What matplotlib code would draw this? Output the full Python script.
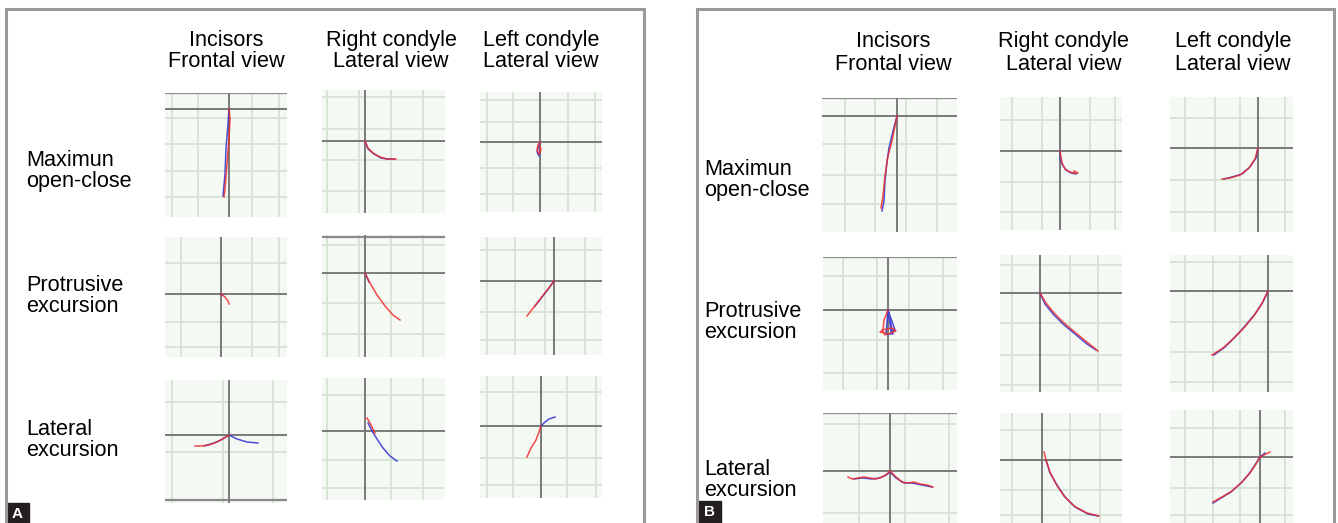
import matplotlib
matplotlib.use("Agg")
import matplotlib.pyplot as plt
from matplotlib.patches import Rectangle

W, H = 1338, 523
plt.rcParams['font.family'] = ['Liberation Sans', 'DejaVu Sans']

col_headers = ["Incisors\nFrontal view", "Right condyle\nLateral view", "Left condyle\nLateral view"]
row_labels = ["Maximun\nopen-close", "Protrusive\nexcursion", "Lateral\nexcursion"]
panel_labels = ["A", "B"]

# ---- trace data (local units, origin at axis crossing, y up) ----
A11_red = [(0, 0), (1, -10), (0, -30), (-2, -55), (-4, -80), (-5, -88)]
A11_blue = [(0, 0), (-1, -15), (-3, -40), (-4, -65), (-6, -87)]
A12_red = [(0, 0), (3, -7), (8, -12), (15, -16), (22, -18), (31, -18)]
A12_blue = [(0, 0), (3, -8), (9, -13), (16, -17), (23, -18), (29, -18)]
A13_red = [(0, 0), (-2, -3), (-3, -8), (-1, -12), (1, -8), (0, -4)]
A13_blue = [(0, 0), (-1, -4), (-3, -10), (-1, -14), (0, -10)]
A21_red = [(0, 0), (4, -3), (7, -7), (8, -10)]
A21_blue = [(0, 0), (1, -1)]
A22_red = [(0, 0), (5, -10), (12, -22), (20, -33), (28, -42), (35, -47)]
A22_blue = [(0, 0), (4, -9)]
A23_red = [(0, 0), (-6, -8), (-13, -17), (-20, -26), (-27, -35)]
A23_blue = [(0, 0), (-5, -7), (-12, -16), (-19, -25)]
A31_red = [(-34, -11), (-28, -11), (-20, -10), (-12, -7), (-5, -3), (0, 0)]
A31_blue = [(-25, -11), (-15, -8), (-8, -5), (0, 0), (8, -4), (18, -7), (29, -8)]
A32_red = [(2, 13), (5, 8), (8, 2), (10, -2)]
A32_blue = [(3, 8), (7, 0), (12, -8), (18, -17), (25, -25), (32, -30)]
A33_red = [(-14, -31), (-10, -22), (-5, -14), (-2, -6), (0, 0)]
A33_blue = [(0, 0), (4, 4), (8, 7), (14, 9)]

B11_red = [(0, 0), (-2, -10), (-5, -25), (-9, -40), (-12, -60), (-14, -80), (-16, -92)]
B11_blue = [(0, 0), (-4, -15), (-8, -32), (-10, -45), (-12, -65), (-13, -85), (-15, -95)]
B12_red = [(0, 0), (1, -6), (2, -12), (5, -18), (10, -21), (15, -22), (18, -22), (14, -20)]
B12_blue = [(0, 0), (0, -7), (2, -13), (6, -19), (11, -22), (16, -23)]
B13_red = [(-36, -31), (-28, -30), (-18, -27), (-9, -20), (-3, -11), (0, 0)]
B13_blue = [(-34, -31), (-26, -29), (-16, -26), (-8, -19), (-2, -10), (0, 0)]
B21_red = [(0, 0), (-4, -10), (-5, -20), (-8, -22), (0, -24), (8, -21), (4, -18), (-6, -20), (-3, -25)]
B21_blue = [(0, 0), (3, -22), (7, -20), (0, 0), (-2, -24), (5, -24), (0, 0)]
B22_red = [(0, 0), (6, -10), (14, -20), (24, -30), (36, -40), (48, -50), (58, -58)]
B22_blue = [(0, 0), (5, -11), (13, -21), (23, -31), (35, -41), (47, -51), (56, -57)]
B23_red = [(-56, -64), (-45, -57), (-35, -48), (-25, -38), (-15, -26), (-7, -14), (0, 0)]
B23_blue = [(-54, -64), (-43, -56), (-33, -46), (-23, -35), (-13, -23), (-5, -11), (0, 0)]
B31_red = [(-42, -6), (-38, -8), (-32, -7), (-26, -6), (-20, -7), (-14, -8), (-8, -6), (-3, -3),
           (0, 0), (5, -5), (12, -11), (18, -12), (24, -11), (30, -13), (37, -14), (43, -16)]
B31_blue = [(-36, -8), (-28, -7), (-18, -8), (-10, -7), (-4, -4), (0, -1), (6, -7), (14, -12),
            (22, -12), (32, -14), (42, -16)]
B32_red = [(2, 8), (4, 0), (8, -12), (14, -24), (22, -36), (32, -46), (45, -53), (57, -56)]
B32_blue = [(4, 0), (8, -13), (15, -25), (23, -37), (33, -47), (46, -54), (56, -56)]
B33_red = [(-47, -45), (-38, -40), (-28, -34), (-18, -25), (-10, -16), (-4, -7), (0, 0), (6, 3), (10, 5)]
B33_blue = [(-47, -46), (-39, -41), (-29, -35), (-19, -26), (-11, -17), (-5, -8), (0, 0), (5, 4)]

# ---- layout specs (pixel boxes) ----
# (left, top, right, bottom, origin_x, origin_y, gridx(px), gridy(px), dark_h(px), red, blue)
specs = [
    (165, 93, 287, 217, 229, 109, [172, 198, 252, 279], [118, 144, 171, 197], [93], A11_red, A11_blue),
    (322, 90, 445, 213, 365, 141, [327, 359, 391, 423], [97, 129, 160, 191], [], A12_red, A12_blue),
    (480, 92, 602, 212, 540, 142, [487, 513, 568, 595], [100, 122, 168, 194], [], A13_red, A13_blue),
    (165, 237, 287, 357, 221, 294, [181, 252, 279], [263, 322, 347], [], A21_red, A21_blue),
    (322, 235, 445, 357, 365, 273, [327, 359, 391, 423], [245, 303, 334], [237], A22_red, A22_blue),
    (480, 237, 602, 355, 554, 281, [487, 515, 545, 585], [250, 312, 340], [], A23_red, A23_blue),
    (165, 380, 287, 503, 229, 435, [172, 223, 273], [402, 452], [500], A31_red, A31_blue),
    (322, 378, 445, 500, 365, 431, [327, 391, 423], [395, 460, 488], [], A32_red, A32_blue),
    (480, 376, 602, 498, 541, 426, [487, 513, 567, 596], [392, 458, 485], [], A33_red, A33_blue),
    (822, 98, 957, 232, 897, 116, [845, 875, 906, 937], [144, 175, 204], [98], B11_red, B11_blue),
    (1000, 97, 1122, 230, 1060, 151, [1012, 1042, 1090, 1115], [120, 182, 212], [], B12_red, B12_blue),
    (1170, 97, 1293, 232, 1258, 148, [1185, 1215, 1240, 1285], [118, 180, 212], [], B13_red, B13_blue),
    (823, 257, 957, 390, 888, 310, [843, 877, 909, 943], [276, 340, 373], [257], B21_red, B21_blue),
    (1000, 255, 1122, 392, 1040, 293, [1012, 1070, 1098], [265, 323, 355, 385], [], B22_red, B22_blue),
    (1170, 255, 1293, 392, 1268, 291, [1185, 1213, 1240], [262, 322, 352, 382], [], B23_red, B23_blue),
    (823, 413, 957, 523, 890, 471, [859, 905, 949], [424, 513], [413], B31_red, B31_blue),
    (1000, 413, 1122, 523, 1042, 460, [1012, 1070, 1100], [430, 490, 515], [], B32_red, B32_blue),
    (1170, 410, 1293, 523, 1260, 457, [1185, 1213, 1240, 1285], [428, 488, 515], [], B33_red, B33_blue),
]

fig = plt.figure(figsize=(W / 100, H / 100), dpi=100)

# overlay axes in pixel coordinates
ov = fig.add_axes([0, 0, 1, 1])
ov.set_xlim(0, W)
ov.set_ylim(H, 0)
ov.axis('off')

frame_col = '#9a9a9a'
for (fl, fr) in [(6, 644), (697, 1334)]:
    ov.plot([fl, fl, fr, fr], [H + 5, 9, 9, H + 5], color=frame_col, lw=2.2, solid_joinstyle='miter')

# label boxes
for lab, (bx, by) in zip(panel_labels, [(6, 503), (698, 501)]):
    ov.add_patch(Rectangle((bx, by), 23, 22, color='#231f20'))
    ov.text(bx + 11.5, by + 11.5, lab, color='white', fontsize=11, fontweight='bold',
            ha='center', va='center')

fs = 15.6
# column headers
for xs, ys, lsp in [([226, 391, 541], 51, 1.05), ([893, 1064, 1233], 53, 1.12)]:
    for x, txt in zip(xs, col_headers):
        ov.text(x, ys, txt, ha='center', va='center', fontsize=fs, linespacing=lsp)
# row labels
for x0, ys in [(26, [171, 296, 440]), (704, [180, 322, 480])]:
    for y, txt in zip(ys, row_labels):
        ov.text(x0, y, txt, ha='left', va='center', fontsize=fs, linespacing=0.95)

# small plots
for (l, t, r, b, ox, oy, gx, gy, dk, red, blue) in specs:
    ax = fig.add_axes([l / W, 1 - b / H, (r - l) / W, (b - t) / H])
    ax.set_xlim(l - ox, r - ox)
    ax.set_ylim(oy - b, oy - t)
    ax.set_facecolor('#f5f9f4')
    for s in ax.spines.values():
        s.set_visible(False)
    ax.set_xticks([])
    ax.set_yticks([])
    for g in gx:
        ax.axvline(g - ox, color='#d3e2d1', lw=1.2, zorder=1)
    for g in gy:
        ax.axhline(oy - g, color='#d3e2d1', lw=1.2, zorder=1)
    for d in dk:
        ax.axhline(oy - d, color='#8a8a8a', lw=1.6, zorder=2)
    ax.axvline(0, color='#7a7a7a', lw=1.4, zorder=2)
    ax.axhline(0, color='#7a7a7a', lw=1.4, zorder=2)
    bx_, by_ = zip(*blue)
    rx_, ry_ = zip(*red)
    ax.plot(bx_, by_, color='#3a3ad0', lw=1.1, zorder=3, alpha=0.9)
    ax.plot(rx_, ry_, color='#ee2a2a', lw=1.1, zorder=4, alpha=0.85)

fig.savefig('out.png', dpi=100, facecolor='white')
